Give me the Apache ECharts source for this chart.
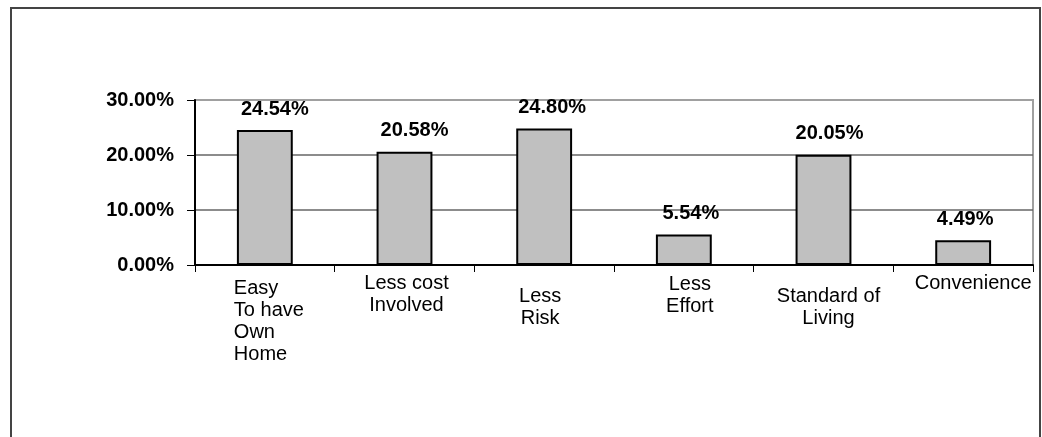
<!DOCTYPE html>
<html>
<head>
<meta charset="utf-8">
<script src="https://cdn.jsdelivr.net/npm/echarts@6/dist/echarts.min.js"></script>
<style>
html,body{margin:0;padding:0;background:#fff;}
#chart{width:1042px;height:437px;}
</style>
</head>
<body>
<div id="chart"></div>
<script>
var categories = ['Easy\nTo have\nOwn\nHome', 'Less cost\nInvolved', 'Less\nRisk', 'Less\nEffort', 'Standard of\nLiving', 'Convenience'];
var values = [24.54, 20.58, 24.80, 5.54, 20.05, 4.49];
var yTicks = [0, 10, 20, 30];

// label layout styles (kept separate from data)
var labelPadTop = [5, 0, 13, 1, 13, 0];
var labelShiftX = [0, 2, -4, 6, 5, 10];
var valueLabelShiftX = [10, 10, 8, 7, 6, 2];

var chart = echarts.init(document.getElementById('chart'));
var font = 'Liberation Sans, Arial, sans-serif';

var xData = categories.map(function (c, i) {
  var s = labelShiftX[i];
  return { value: c, textStyle: { padding: [labelPadTop[i], s < 0 ? -2 * s : 0, 0, s > 0 ? 2 * s : 0] } };
});

var seriesData = values.map(function (v, i) {
  return { value: v, label: { offset: [valueLabelShiftX[i], 0] } };
});

chart.setOption({
  animation: false,
  backgroundColor: '#fff',
  title: {
    text: 'reasons.',
    left: 0,
    top: -22,
    textStyle: { fontFamily: 'Liberation Serif, Times New Roman, serif', fontSize: 22, fontWeight: 'bold', color: '#000' }
  },
  graphic: [{
    type: 'rect',
    shape: { x: 11, y: 8, width: 1029, height: 460 },
    style: { fill: 'none', stroke: '#444', lineWidth: 2 },
    silent: true
  }],
  grid: { left: 195, top: 100, right: 9, bottom: 172, show: true, borderColor: '#a0a0a0', borderWidth: 2, backgroundColor: 'transparent' },
  xAxis: {
    type: 'category',
    data: xData,
    axisLine: { lineStyle: { color: '#000', width: 2 } },
    axisTick: { show: true, length: 7, lineStyle: { color: '#000', width: 1 } },
    axisLabel: {
      interval: 0,
      margin: 7,
      fontFamily: font,
      fontSize: 20,
      lineHeight: 22,
      color: '#000',
      formatter: function (v, idx) {
        if (idx === 0) {
          return v.split('\n').map(function (s) { return '{l|' + s + '}'; }).join('\n');
        }
        return v;
      },
      rich: {
        l: { width: 62, align: 'left', fontFamily: font, fontSize: 20, lineHeight: 22, color: '#000' }
      }
    }
  },
  yAxis: {
    type: 'value',
    min: yTicks[0],
    max: yTicks[yTicks.length - 1],
    interval: 10,
    axisLine: { show: true, lineStyle: { color: '#000', width: 2 } },
    axisTick: { show: true, length: 8, lineStyle: { color: '#000' } },
    axisLabel: {
      margin: 21,
      fontFamily: font,
      fontSize: 20,
      fontWeight: 'bold',
      color: '#000',
      formatter: function (v) { return v.toFixed(2) + '%'; }
    },
    splitLine: { show: true, lineStyle: { color: ['#000', '#666', '#666', '#a0a0a0'], width: 1.5 } }
  },
  series: [{
    type: 'bar',
    data: seriesData,
    barWidth: '40%',
    itemStyle: { color: '#c0c0c0', borderColor: '#000', borderWidth: 2 },
    label: {
      show: true,
      position: 'top',
      distance: 11,
      fontFamily: font,
      fontSize: 20,
      fontWeight: 'bold',
      color: '#000',
      formatter: function (p) { return p.value.toFixed(2) + '%'; }
    }
  }]
});
</script>
</body>
</html>
